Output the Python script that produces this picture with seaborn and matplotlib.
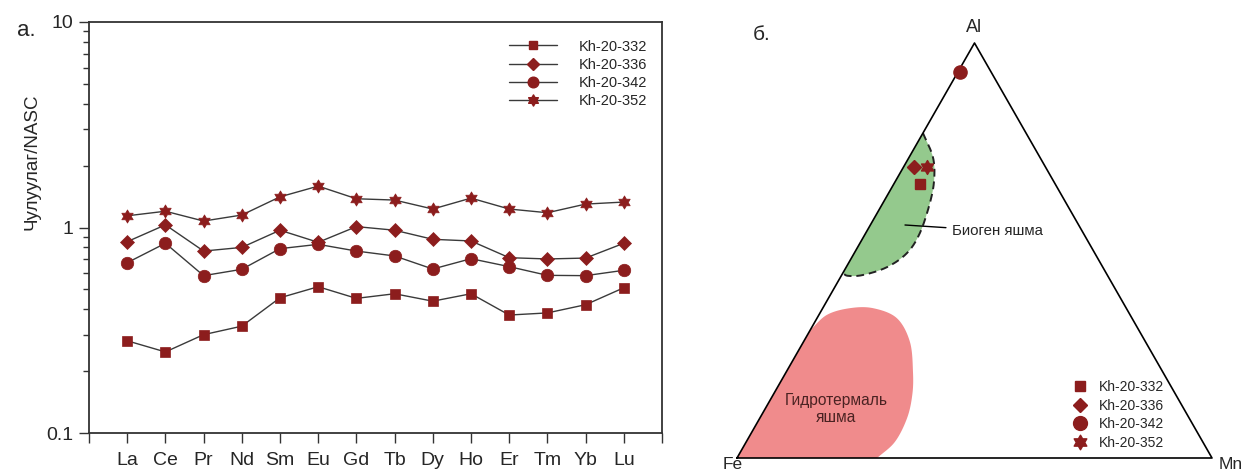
import numpy as np
import pandas as pd
import matplotlib
matplotlib.use("Agg")
import matplotlib.pyplot as plt
import seaborn as sns
from matplotlib.lines import Line2D
from matplotlib.path import Path
from matplotlib.ticker import FixedLocator, NullFormatter, FixedFormatter

# REE / NASC data
elements = ["La", "Ce", "Pr", "Nd", "Sm", "Eu", "Gd", "Tb", "Dy", "Ho", "Er", "Tm", "Yb", "Lu"]
samples = ["Kh-20-332", "Kh-20-336", "Kh-20-342", "Kh-20-352"]
kh332 = [0.281, 0.248, 0.301, 0.331, 0.455, 0.515, 0.452, 0.476, 0.438, 0.476, 0.375, 0.384, 0.421, 0.509]
kh336 = [0.853, 1.03, 0.768, 0.80, 0.97, 0.847, 1.01, 0.97, 0.876, 0.86, 0.713, 0.703, 0.71, 0.838]
kh342 = [0.674, 0.838, 0.583, 0.626, 0.789, 0.828, 0.768, 0.727, 0.628, 0.705, 0.645, 0.585, 0.583, 0.619]
kh352 = [1.14, 1.20, 1.075, 1.15, 1.41, 1.59, 1.38, 1.36, 1.23, 1.39, 1.23, 1.18, 1.30, 1.33]

# Al-Fe-Mn ternary: fractions of Al and Mn (Fe = rest)
tern_al = [0.661, 0.702, 0.930, 0.702]
tern_mn = [0.055, 0.022, 0.005, 0.048]

# field outlines (curved side), Al and Mn fractions
biogen_al = [0.783, 0.725, 0.670, 0.614, 0.542, 0.494, 0.460, 0.441, 0.439, 0.446]
biogen_mn = [0.000, 0.050, 0.080, 0.099, 0.114, 0.111, 0.086, 0.045, 0.014, 0.000]
hydro_al = [0.308, 0.345, 0.361, 0.361, 0.337, 0.280, 0.207, 0.152, 0.096, 0.039, 0.000]
hydro_mn = [0.000, 0.017, 0.057, 0.106, 0.168, 0.224, 0.267, 0.293, 0.310, 0.313, 0.295]

red = "#8c1d1d"
line_col = "#3a3a3a"
star = Path.unit_regular_star(6, 0.58)
markers = {"Kh-20-332": "s", "Kh-20-336": "D", "Kh-20-342": "o", "Kh-20-352": star}
msizes = {"Kh-20-332": 7.5, "Kh-20-336": 7.0, "Kh-20-342": 9, "Kh-20-352": 9.5}

sns.set_theme(style="ticks")
plt.rcParams["font.family"] = ["Liberation Sans", "DejaVu Sans"]

fig = plt.figure(figsize=(12.52, 4.72), dpi=100)

# ---- panel a: spider diagram
ax = fig.add_axes([89 / 1252, 39 / 472, 573 / 1252, 411 / 472])
pos = np.arange(1, len(elements) + 1)
rows = []
for s, vals in zip(samples, [kh332, kh336, kh342, kh352]):
    for p, v in zip(pos, vals):
        rows.append({"pos": p, "val": v, "sample": s})
df = pd.DataFrame(rows)

for s in samples:
    sns.lineplot(data=df[df["sample"] == s], x="pos", y="val", ax=ax,
                 color=line_col, linewidth=1.0, marker=markers[s],
                 markersize=msizes[s], markerfacecolor=red, markeredgecolor=red,
                 markeredgewidth=0.5, legend=False)

ax.set_yscale("log")
ax.set_ylim(0.1, 10)
ax.set_xlim(0, 15)
ax.yaxis.set_major_locator(FixedLocator([0.1, 1, 10]))
ax.yaxis.set_major_formatter(FixedFormatter(["0.1", "1", "10"]))
minor = [m * d for d in [0.1, 1] for m in range(2, 10)]
ax.yaxis.set_minor_locator(FixedLocator(minor))
ax.yaxis.set_minor_formatter(NullFormatter())
ax.set_xticks(np.arange(0, 16))
ax.set_xticklabels([""] + elements + [""])
ax.tick_params(axis="both", which="major", direction="out", length=7, width=1,
               color="#333333", labelsize=14)
ax.tick_params(axis="x", which="major", pad=7)
ax.tick_params(axis="y", which="major", pad=4)
ax.tick_params(axis="y", which="minor", direction="out", length=4, width=1, color="#333333")
for sp in ax.spines.values():
    sp.set_color("#333333")
    sp.set_linewidth(1.3)
ax.set_xlabel("")
ax.set_ylabel("Чулуулаг/NASC", fontsize=13.5)
ax.yaxis.set_label_coords(-0.085, 0.66)

handles = [Line2D([], [], color=line_col, linewidth=1.0, marker=markers[s],
                  markersize=msizes[s] * 0.85, markerfacecolor=red, markeredgecolor=red)
           for s in samples]
ax.legend(handles, samples, loc="upper left", bbox_to_anchor=(0.72, 0.975),
          frameon=False, fontsize=10.5, handlelength=3.3, handletextpad=1.5,
          labelspacing=0.28, borderpad=0)
fig.text(17 / 1252, 1 - 31 / 472, "а.", fontsize=16, va="center", ha="left")

# ---- panel b: ternary Al-Fe-Mn
def tern(al, mn):
    al = np.asarray(al, float)
    mn = np.asarray(mn, float)
    return mn + al / 2, al * np.sqrt(3) / 2


def smooth(x, y, n=20):
    pts = np.column_stack([x, y])
    pts = np.vstack([2 * pts[0] - pts[1], pts, 2 * pts[-1] - pts[-2]])
    out = []
    for i in range(1, len(pts) - 2):
        p0, p1, p2, p3 = pts[i - 1], pts[i], pts[i + 1], pts[i + 2]
        for t in np.linspace(0, 1, n, endpoint=False):
            t2, t3 = t * t, t * t * t
            out.append(0.5 * ((2 * p1) + (-p0 + p2) * t + (2 * p0 - 5 * p1 + 4 * p2 - p3) * t2
                              + (-p0 + 3 * p1 - 3 * p2 + p3) * t3))
    out.append(pts[-2])
    out = np.array(out)
    return out[:, 0], out[:, 1]


bx = fig.add_axes([700 / 1252, 0, 552 / 1252, 1])
bx.set_xlim((700 - 737) / 475, (1252 - 737) / 475)
bx.set_ylim(-14 / 479.2, 458 / 479.2)
bx.axis("off")

# fields
gx, gy = smooth(*tern(biogen_al, biogen_mn))
bx.fill(gx, gy, color="#94c98d", lw=0, zorder=1)
bx.plot(gx, gy, color="#222222", lw=1.4, ls=(0, (4, 2.5)), zorder=2)
hx, hy = smooth(*tern(hydro_al, hydro_mn))
hx = np.concatenate([hx, [0.0]])
hy = np.concatenate([hy, [0.0]])
bx.fill(hx, hy, color="#f08b8c", lw=0, zorder=1)

# triangle
h = np.sqrt(3) / 2
bx.plot([0, 1, 0.5, 0], [0, 0, h, 0], color="black", lw=1.2, zorder=3)
bx.text(0.5, h + 0.033, "Al", ha="center", va="center", fontsize=13)
bx.text(-0.01, -0.014, "Fe", ha="center", va="center", fontsize=12.5)
bx.text(1.04, -0.014, "Mn", ha="center", va="center", fontsize=12.5)
fig.text(753 / 1252, 1 - 35 / 472, "б.", fontsize=15, va="center", ha="left")

tx, ty = tern(tern_al, tern_mn)
tsizes = {"Kh-20-332": 7.2, "Kh-20-336": 7.2, "Kh-20-342": 9.5, "Kh-20-352": 10}
pts = pd.DataFrame({"x": tx, "y": ty, "sample": samples})
for s in samples:
    sub = pts[pts["sample"] == s]
    bx.plot(sub["x"], sub["y"], ls="none", marker=markers[s], markersize=tsizes[s],
            markerfacecolor=red, markeredgecolor=red, zorder=4)

bx.annotate("Биоген яшма", xy=((905 - 737) / 475, (458 - 225) / 479.2),
            xytext=((952 - 737) / 475, (458 - 231) / 479.2), fontsize=10.8,
            va="center", ha="left",
            arrowprops=dict(arrowstyle="-", color="black", lw=1.0, shrinkA=2, shrinkB=0))
bx.text((836 - 737) / 475, (458 - 409) / 479.2, "Гидротермаль\nяшма", ha="center",
        va="center", fontsize=11.2, color="#4a2222", linespacing=1.15)

thandles = [Line2D([], [], ls="none", marker=markers[s], markersize=tsizes[s] * 1.05,
                   markerfacecolor=red, markeredgecolor=red) for s in samples]
bx.legend(thandles, samples, loc="upper left", bbox_to_anchor=(1066 / 1252, 1 - 373 / 472),
          bbox_transform=fig.transFigure, frameon=False, fontsize=10,
          handlelength=1.0, handletextpad=0.9, labelspacing=0.33, borderpad=0)

fig.savefig("out.png", dpi=100, facecolor="white")
